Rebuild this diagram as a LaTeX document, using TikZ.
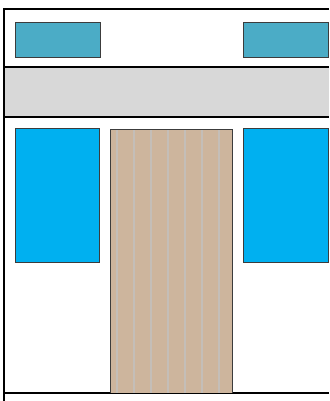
\documentclass[tikz,border=0pt]{standalone}
\usepackage{tikz}
\definecolor{tealblue}{RGB}{75,172,198}
\definecolor{skyblue}{RGB}{0,176,240}
\definecolor{woodtan}{RGB}{205,181,157}
\definecolor{woodline}{RGB}{196,190,184}
\definecolor{bandgray}{RGB}{216,216,216}
\definecolor{edgegray}{RGB}{60,60,60}

\begin{document}
\begin{tikzpicture}[x=1pt, y=-1pt]
\tikzset{
        frame/.style={draw=black, line width=1.2pt},
        panel/.style={draw=edgegray, line width=0.9pt},
        topbox/.style={panel, fill=tealblue},
        sidebox/.style={panel, fill=skyblue},
        wood/.style={panel, fill=woodtan},
    }
  \useasboundingbox (0,0) rectangle (329,401);
  % band
  \fill[bandgray] (4,67) rectangle (329,117);
  \draw[frame] (329,9) -- (4,9) -- (4,401);
  \draw[frame] (4,67) -- (329,67);
  \draw[frame] (4,117) -- (329,117);
  \draw[frame] (4,393) -- (329,393);
  % top boxes
  \draw[topbox] (15,22) rectangle (100,57);
  \draw[topbox] (243,22) rectangle (328,57);
  % side boxes
  \draw[sidebox] (15,128) rectangle (99,262);
  \draw[sidebox] (243,128) rectangle (328,262);
  % wood
  \fill[woodtan] (110,129) rectangle (232,393);
  \foreach \x in {117,134,151,168,185,202,219}
    \draw[woodline, line width=1.3pt] (\x,129) -- (\x,393);
  \draw[panel] (110,393) -- (110,129) -- (232,129) -- (232,393);
\end{tikzpicture}
\end{document}
